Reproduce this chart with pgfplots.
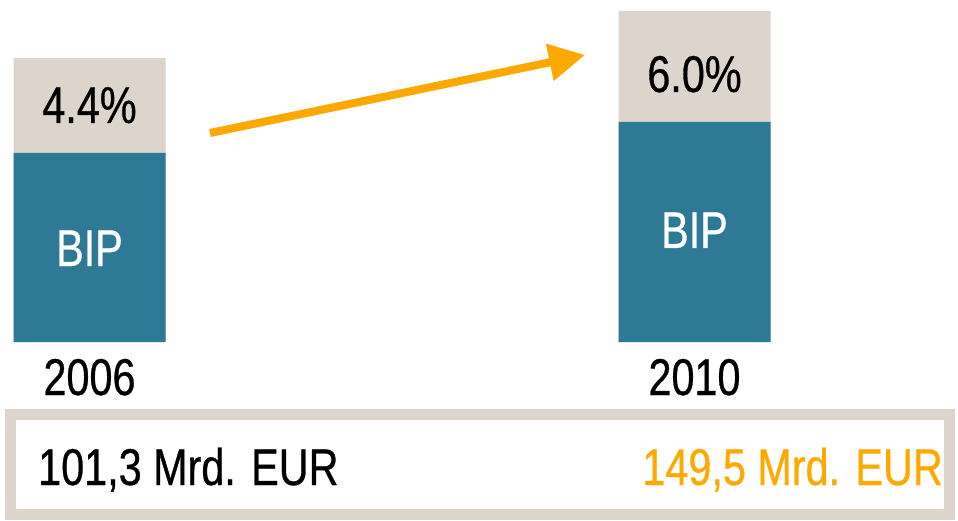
\documentclass[border=0pt]{standalone}
\usepackage{pgfplots}
\pgfplotsset{compat=1.18}
\usepackage{fontspec}
\setmainfont{Liberation Sans}[FakeStretch=0.8, FakeBold=0.6]
\usetikzlibrary{arrows.meta}
\definecolor{bip}{HTML}{2E7A96}
\definecolor{share}{HTML}{DDD5CC}
\definecolor{arr}{HTML}{FFA800}
\tikzset{lab/.style={font=\fontsize{51.7}{60}\selectfont, inner sep=0pt}}
\begin{document}
\begin{tikzpicture}
\begin{axis}[
  scale only axis, width=958pt, height=520pt,
  xmin=0, xmax=958, ymin=-178, ymax=342,
  hide axis, clip=false,
]
\path (axis cs:0,-178) rectangle (axis cs:958,342);
% total bar height (BIP + share), drawn first
\addplot[ybar, bar width=152, bar shift=0pt, fill=share, draw=none]
  coordinates {(89.5,284) (694.5,331)};
% BIP part
\addplot[ybar, bar width=152, bar shift=0pt, fill=bip, draw=none]
  coordinates {(89.5,189) (694.5,220)};
% arrow
\addplot[arr, line width=8pt, -{Triangle[length=36pt,width=36pt]}]
  coordinates {(210,209) (585,287)};
\node[lab, anchor=base] at (axis cs:89.5,219) {4.4\%};
\node[lab, anchor=base, white] at (axis cs:89.5,76) {BIP};
\node[lab, anchor=base] at (axis cs:694.5,250) {6.0\%};
\node[lab, anchor=base, white] at (axis cs:694.5,94) {BIP};
\node[lab, anchor=base] at (axis cs:89.5,-53) {2006};
\node[lab, anchor=base] at (axis cs:694.5,-53) {2010};
\draw[share, line width=11pt] (axis cs:10.5,-72.5) rectangle (axis cs:949.5,-172.5);
\node[lab, anchor=base west] at (axis cs:38,-143) {101,3 Mrd. EUR};
\node[lab, anchor=base east, arr] at (axis cs:943,-143) {149,5 Mrd. EUR};
\end{axis}
\end{tikzpicture}
\end{document}
